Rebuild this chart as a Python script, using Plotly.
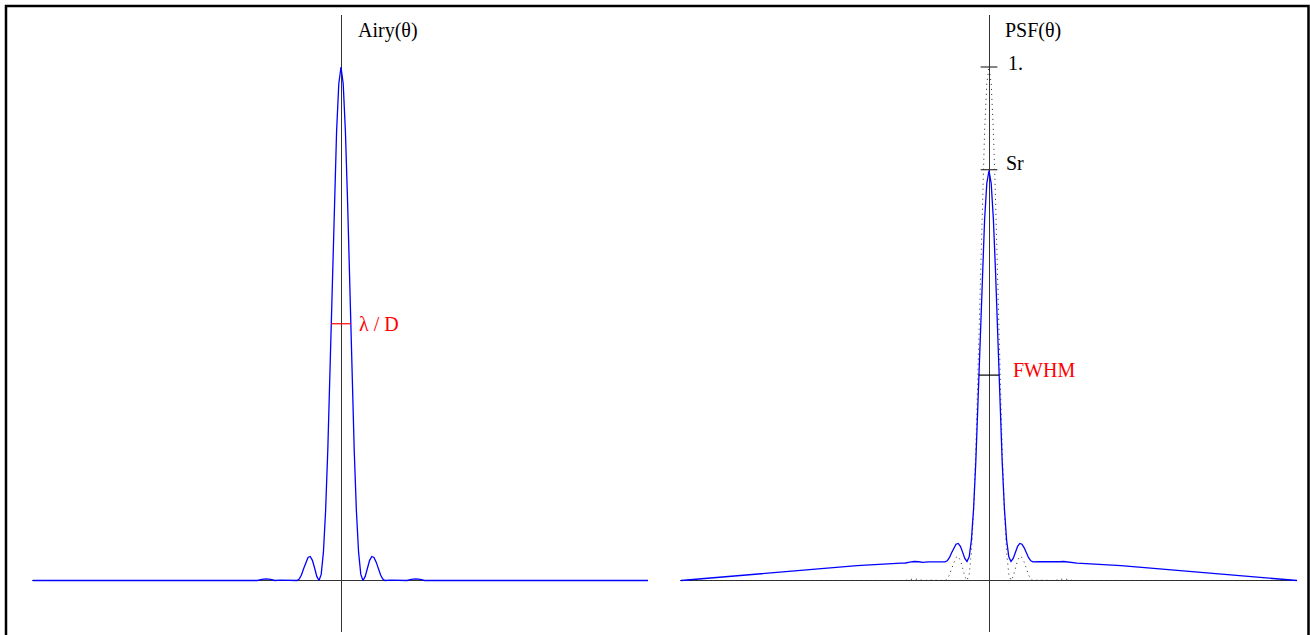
import plotly.graph_objects as go

# ---- data (one-sided, in units of lambda/D; curves are symmetric) ----
theta = [0.0, 0.1, 0.2, 0.3, 0.4, 0.5, 0.6, 0.7, 0.8, 0.9, 1.0,
         1.1, 1.2, 1.3, 1.4, 1.5, 1.6, 1.7, 1.8, 1.9, 2.0,
         2.25, 2.5, 2.75, 3.0, 3.2, 3.4, 3.6, 3.8, 4.0, 6.0, 8.0, 10.0, 12.0, 14.0]
airy = [1.0, 0.9675, 0.8751, 0.7368, 0.5728, 0.4053, 0.2546, 0.1353, 0.0547, 0.0119, 0.0,
        0.0080, 0.0243, 0.0392, 0.0468, 0.0450, 0.0358, 0.0230, 0.0108, 0.0027, 0.0,
        0.0008, 0.0010, 0.0008, 0.0, 0.0020, 0.0030, 0.0020, 0.0, 0.0, 0.0, 0.0, 0.0, 0.0, 0.0]
psf = [0.798, 0.7732, 0.7029, 0.5977, 0.4729, 0.3455, 0.2309, 0.1402, 0.0788, 0.0462, 0.0370,
       0.0430, 0.0553, 0.0665, 0.0722, 0.0707, 0.0636, 0.0539, 0.0445, 0.0383, 0.0362,
       0.0366, 0.0366, 0.0362, 0.0353, 0.0365, 0.0370, 0.0359, 0.0341, 0.0338, 0.0288, 0.0215, 0.0143, 0.0072, 0.0]

strehl = 0.8          # Sr level
half_airy = 0.5       # level of lambda/D marker
fwhm_level = 0.4      # half of Sr
airy_half_width = 0.45
fwhm_half_width = 0.47
tick_half = 0.38

def mirror(xs, ys):
    return [-v for v in xs[:0:-1]] + list(xs), list(ys[:0:-1]) + list(ys)

ax, ay = mirror(theta, airy)
px, py = mirror(theta, psf)

BLUE = "#0000ff"
FONT = "Liberation Serif, Times New Roman, serif"

fig = go.Figure()
fig.add_trace(go.Scatter(x=ax, y=ay, mode="lines", line=dict(color=BLUE, width=1.3),
                         xaxis="x", yaxis="y", hoverinfo="skip"))
fig.add_trace(go.Scatter(x=ax, y=ay, mode="lines", line=dict(color="#222", width=1, dash="1px,4px"),
                         xaxis="x2", yaxis="y2", hoverinfo="skip"))
fig.add_trace(go.Scatter(x=px, y=py, mode="lines", line=dict(color=BLUE, width=1.3),
                         xaxis="x2", yaxis="y2", hoverinfo="skip"))

W, H = 1310, 635
yr = [-(632 - 580.5) / 513.5, (580.5 - 15) / 513.5]
ydom = [(H - 632) / H, (H - 15) / H]

axis_common = dict(showgrid=False, showticklabels=False, ticks="", showline=False,
                   zeroline=True, zerolinecolor="#333", zerolinewidth=1, fixedrange=True)

fig.update_layout(
    width=W, height=H, margin=dict(l=0, r=0, t=0, b=0),
    paper_bgcolor="white", plot_bgcolor="rgba(0,0,0,0)", showlegend=False,
    xaxis=dict(domain=[32 / W, 648 / W], range=[(32 - 341) / 22, (648 - 341) / 22], **axis_common),
    yaxis=dict(domain=ydom, range=yr, anchor="x", **axis_common),
    xaxis2=dict(domain=[680 / W, 1297 / W], range=[(680 - 989) / 22, (1297 - 989) / 22], anchor="y2", **axis_common),
    yaxis2=dict(domain=ydom, range=yr, anchor="x2", **axis_common),
)

shapes = [
    dict(type="rect", xref="paper", yref="paper", x0=6 / W, x1=1308.5 / W, y0=-0.1, y1=(H - 6) / H,
         line=dict(color="black", width=2.5)),
    dict(type="line", xref="x", yref="y", x0=-airy_half_width, x1=airy_half_width, y0=half_airy, y1=half_airy,
         line=dict(color="red", width=1.2)),
    dict(type="line", xref="x2", yref="y2", x0=-tick_half, x1=tick_half, y0=1.0, y1=1.0,
         line=dict(color="#333", width=1.2)),
    dict(type="line", xref="x2", yref="y2", x0=-tick_half, x1=tick_half, y0=strehl, y1=strehl,
         line=dict(color="#333", width=1.2)),
    dict(type="line", xref="x2", yref="y2", x0=-fwhm_half_width, x1=fwhm_half_width, y0=fwhm_level, y1=fwhm_level,
         line=dict(color="black", width=1.2)),
]
fig.update_layout(shapes=shapes)

def label(text, xref, yref, x, y, color="black"):
    fig.add_annotation(text=text, xref=xref, yref=yref, x=x, y=y, showarrow=False,
                       xanchor="left", yanchor="middle", font=dict(family=FONT, size=20, color=color))

label("Airy(θ)", "x", "y", 0.7, 1.072)
label("λ / D", "x", "y", 0.72, 0.5, "red")
label("PSF(θ)", "x2", "y2", 0.65, 1.072)
label("1.", "x2", "y2", 0.78, 1.008)
label("Sr", "x2", "y2", 0.7, 0.813)
label("FWHM", "x2", "y2", 1.0, 0.41, "red")

fig.write_html("out.html", config={"displayModeBar": False},
               post_script="document.body.style.margin='0';document.body.style.overflow='hidden';")
